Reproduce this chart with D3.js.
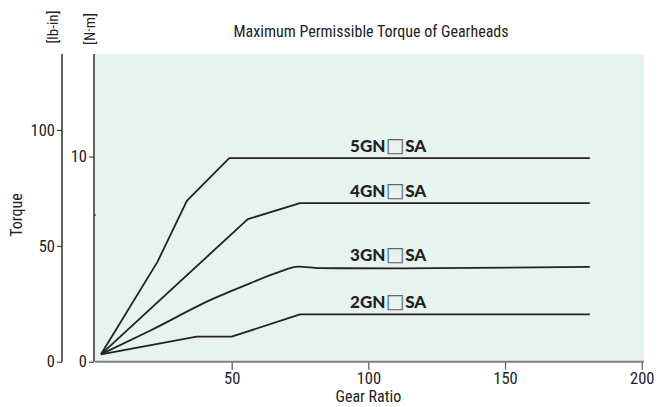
<!DOCTYPE html>
<html><head><meta charset="utf-8">
<script src="https://cdn.jsdelivr.net/npm/d3@7"></script>
<style>
html,body{margin:0;padding:0;background:#fff;}
svg{display:block;}
.narrow{font-family:"Liberation Sans Narrow","Roboto Condensed","Arial Narrow",sans-serif;}
</style></head><body>
<svg id="chart" width="659" height="407"></svg>
<script>
// ---- data ----
const title = "Maximum Permissible Torque of Gearheads";
const seriesNames = ["5GN□SA", "4GN□SA", "3GN□SA", "2GN□SA"];
const ratio5 = [2.2, 22.9, 33.6, 49.1, 181];
const torque5 = [0.36, 4.88, 7.84, 9.92, 9.92];
const ratio4 = [2.2, 55.9, 75, 181];
const torque4 = [0.36, 6.95, 7.73, 7.73];
const ratio3 = [2.2, 20.1, 43.1, 56.7, 67.7, 74.4, 82.3, 111.6, 181];
const torque3 = [0.36, 1.51, 3.06, 3.82, 4.39, 4.63, 4.56, 4.55, 4.62];
const ratio2 = [2.2, 37.2, 50, 75, 181];
const torque2 = [0.36, 1.22, 1.22, 2.31, 2.31];
const labelRatio = 93.3;
const xTicks = [50, 100, 150, 200];
const nmTicks = [0, 10];
const nmMinorTicks = [7.15];
const lbinTicks = [0, 50, 100];
const NM_TO_LBIN = 8.851;

const ratios = [ratio5, ratio4, ratio3, ratio2];
const torques = [torque5, torque4, torque3, torque2];
const smooth = [false, false, true, false];

// ---- scales ----
const svg = d3.select("#chart");
const x = d3.scaleLinear().domain([0, 200]).range([95, 641.7]);
const y = d3.scaleLinear().domain([0, 15]).range([361.7, 54]);
const yLb = d3.scaleLinear().domain([0, 15 * NM_TO_LBIN]).range([361.7, 54]);

// background
svg.append("rect").attr("x", x(0)).attr("y", y(15))
  .attr("width", 644 - x(0)).attr("height", y(0) - y(15))
  .attr("fill", "#e6f3ef");

// x axis
const xAxis = svg.append("g").attr("transform", `translate(0,${y(0)})`)
  .call(d3.axisBottom(x).tickValues(xTicks).tickSize(8).tickSizeOuter(0).tickFormat(d3.format("d")));
xAxis.select(".domain").remove();
xAxis.append("line").attr("x1", x(0)).attr("x2", 644).attr("y1", 0).attr("y2", 0)
  .attr("stroke", "#808080").attr("stroke-width", 2);
xAxis.selectAll(".tick line").attr("stroke", "#555").attr("stroke-width", 1.2);
xAxis.selectAll(".tick text").attr("class", "narrow").attr("font-size", 16.5)
  .attr("fill", "#222").attr("dy", "0.95em").attr("y", 7);

// N·m axis
const nmAxis = svg.append("g").attr("transform", `translate(${x(0) - 1},0)`)
  .call(d3.axisLeft(y).tickValues(nmTicks).tickSize(5).tickSizeOuter(0).tickFormat(d3.format("d")));
nmAxis.select(".domain").remove();
nmAxis.append("line").attr("x1", 0).attr("x2", 0).attr("y1", y(15)).attr("y2", y(0))
  .attr("stroke", "#222").attr("stroke-width", 1.4);
nmAxis.selectAll(".tick line").attr("stroke", "#222");
nmAxis.selectAll(".tick text").attr("class", "narrow").attr("font-size", 16.5).attr("fill", "#222").attr("x", -7);
nmAxis.selectAll(".minor").data(nmMinorTicks).enter().append("line")
  .attr("x1", 0).attr("x2", 2).attr("y1", d => y(d)).attr("y2", d => y(d))
  .attr("stroke", "#222");

// lb-in axis
const lbAxis = svg.append("g").attr("transform", "translate(62,0)")
  .call(d3.axisLeft(yLb).tickValues(lbinTicks).tickSize(5).tickSizeOuter(0).tickFormat(d3.format("d")));
lbAxis.select(".domain").remove();
lbAxis.append("line").attr("x1", 0).attr("x2", 0).attr("y1", y(15)).attr("y2", y(0))
  .attr("stroke", "#222").attr("stroke-width", 1.4);
lbAxis.selectAll(".tick line").attr("stroke", "#222");
lbAxis.selectAll(".tick text").attr("class", "narrow").attr("font-size", 16.5).attr("fill", "#222").attr("x", -7);

// unit labels
svg.append("text").attr("class", "narrow").attr("font-size", 15).attr("fill", "#222")
  .attr("transform", "translate(58,27) rotate(-90)").attr("text-anchor", "middle").text("[lb-in]");
svg.append("text").attr("class", "narrow").attr("font-size", 15).attr("fill", "#222")
  .attr("transform", "translate(95,29) rotate(-90)").attr("text-anchor", "middle").text("[N·m]");

// axis titles
svg.append("text").attr("class", "narrow").attr("font-size", 16).attr("fill", "#222")
  .attr("transform", "translate(22,215) rotate(-90)").attr("text-anchor", "middle").text("Torque");
svg.append("text").attr("class", "narrow").attr("font-size", 16).attr("fill", "#222")
  .attr("x", x(100)).attr("y", 402).attr("text-anchor", "middle").text("Gear Ratio");

// title
svg.append("text").attr("class", "narrow").attr("font-size", 16).attr("fill", "#222")
  .attr("x", 371).attr("y", 37).attr("text-anchor", "middle").text(title);

// lines
ratios.forEach((r, i) => {
  const pts = r.map((v, j) => [v, torques[i][j]]);
  const line = d3.line().x(d => x(d[0])).y(d => y(d[1]))
    .curve(smooth[i] ? d3.curveMonotoneX : d3.curveLinear);
  svg.append("path").datum(pts).attr("d", line)
    .attr("fill", "none").attr("stroke", "#222").attr("stroke-width", 1.8)
    .attr("stroke-linejoin", "round");
});

// series labels
seriesNames.forEach((name, i) => {
  const lastT = torques[i][torques[i].length - 1];
  const t = svg.append("text").attr("x", x(labelRatio)).attr("y", y(lastT) - 6)
    .attr("font-family", "Lato, 'Open Sans', sans-serif").attr("font-weight", 900)
    .attr("font-size", 17).attr("fill", "#222");
  const parts = name.split("□");
  t.append("tspan").text(parts[0]);
  t.append("tspan").attr("font-family", "'DejaVu Sans', sans-serif").attr("font-weight", 400)
    .attr("font-size", 20).attr("fill", "#666").attr("dx", 0.5).text("□");
  t.append("tspan").attr("dx", 0.5).text(parts[1]);
});
</script>
</body></html>
